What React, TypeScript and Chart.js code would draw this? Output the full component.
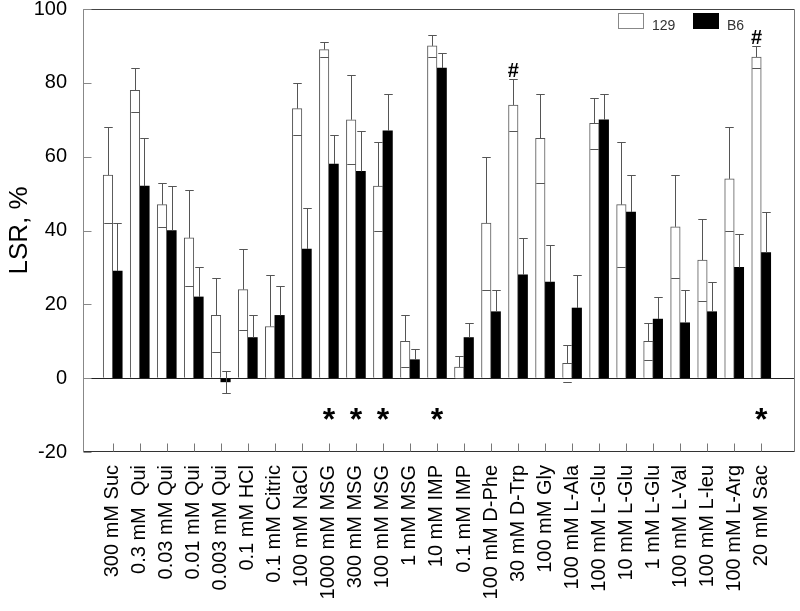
import React, { useEffect, useRef } from 'react';
import { Chart, registerables } from 'chart.js';

Chart.register(...registerables);

const categories = [
  '300 mM Suc', '0.3 mM  Qui', '0.03 mM Qui', '0.01 mM Qui', '0.003 mM Qui',
  '0.1 mM HCl', '0.1 mM Citric', '100 mM NaCl', '1000 mM MSG', '300 mM MSG',
  '100 mM MSG', '1 mM MSG', '10 mM IMP', '0.1 mM IMP', '100 mM D-Phe',
  '30 mM D-Trp', '100 mM Gly', '100 mM L-Ala', '100 mM L-Glu', '10 mM L-Glu',
  '1 mM L-Glu', '100 mM L-Val', '100 mM L-leu', '100 mM L-Arg', '20 mM Sac',
];

const values129 = [55, 78, 47, 38, 17, 24, 14, 73, 89, 70, 52, 10, 90, 3, 42, 74, 65, 4, 69, 47, 10, 41, 32, 54, 87];
const sd129 = [13, 6, 6, 13, 10, 11, 14, 7, 2, 12, 12, 7, 3, 3, 18, 7, 12, 5, 7, 17, 5, 14, 11, 14, 3];
const valuesB6 = [29, 52, 40, 22, -1, 11, 17, 35, 58, 56, 67, 5, 84, 11, 18, 28, 26, 19, 70, 45, 16, 15, 18, 30, 34];
const sdB6 = [13, 13, 12, 8, 3, 6, 8, 11, 8, 11, 10, 3, 4, 4, 6, 10, 10, 9, 7, 10, 6, 9, 8, 9, 11];

const yTicks = [-20, 0, 20, 40, 60, 80, 100];
const starGroups = [8, 9, 10, 12, 24];
const hashGroups = [15, 24];
const starValue = -9.5;

const FONT = "'Liberation Sans', Arial, sans-serif";

const errorBarPlugin = {
  id: 'errorBars',
  afterDatasetsDraw(chart: any) {
    const ctx = chart.ctx;
    const y = chart.scales.y;
    ctx.save();
    ctx.strokeStyle = '#555';
    ctx.lineWidth = 1;
    chart.data.datasets.forEach((ds: any, di: number) => {
      const meta = chart.getDatasetMeta(di);
      meta.data.forEach((bar: any, i: number) => {
        const v = ds.data[i].y;
        const e = ds.errors[i];
        const cx = Math.round(bar.x) + 0.5;
        const half = bar.width / 2 - 0.5;
        const yv = y.getPixelForValue(v);
        const yTop = Math.round(y.getPixelForValue(v + e)) + 0.5;
        const yLow = Math.round(y.getPixelForValue(v - e)) + 0.5;
        ctx.beginPath();
        if (v >= 0) {
          ctx.moveTo(cx, yv);
          ctx.lineTo(cx, yTop);
          ctx.moveTo(cx - half, yTop);
          ctx.lineTo(cx + half, yTop);
        }
        if (ds.hollow || Math.abs(v) < e) {
          if (Math.abs(v) < e && !ds.hollow) {
            ctx.moveTo(cx, yTop);
            ctx.lineTo(cx, yLow);
          }
          ctx.moveTo(cx - half, yLow);
          ctx.lineTo(cx + half, yLow);
        }
        if (v < 0) {
          ctx.moveTo(cx, yTop);
          ctx.lineTo(cx, yLow);
          ctx.moveTo(cx - half, yTop);
          ctx.lineTo(cx + half, yTop);
        }
        ctx.stroke();
      });
    });
    ctx.restore();
  },
};

const framePlugin = {
  id: 'frame',
  afterDraw(chart: any) {
    const ctx = chart.ctx;
    const { left, right, top, bottom } = chart.chartArea;
    const x = chart.scales.x;
    const y = chart.scales.y;
    ctx.save();
    ctx.lineWidth = 1;
    const line = (x1: number, y1: number, x2: number, y2: number, c: string) => {
      ctx.strokeStyle = c;
      ctx.beginPath();
      ctx.moveTo(x1, y1);
      ctx.lineTo(x2, y2);
      ctx.stroke();
    };
    const L = Math.round(left) + 0.5, R = Math.round(right) - 0.5;
    const T = Math.round(top) + 0.5, B = Math.round(bottom) - 0.5;
    line(L, T, R, T, '#444');
    line(R, T, R, B, '#777');
    line(L, T, L, B, '#888');
    line(L, B, R, B, '#333');
    y.ticks.forEach((t: any) => {
      const py = Math.round(y.getPixelForValue(t.value)) + 0.5;
      line(L, py, L + 8, py, '#888');
    });
    x.ticks.forEach((t: any) => {
      const px = Math.round(x.getPixelForValue(t.value)) + 0.5;
      line(px, B, px, B - 8, '#777');
    });
    ctx.restore();
  },
};

const marksPlugin = {
  id: 'marks',
  afterDatasetsDraw(chart: any) {
    const ctx = chart.ctx;
    const x = chart.scales.x;
    const y = chart.scales.y;
    ctx.save();
    ctx.fillStyle = '#000';
    ctx.textAlign = 'center';
    ctx.font = `bold 32px ${FONT}`;
    ctx.textBaseline = 'middle';
    starGroups.forEach((g) => {
      ctx.fillText('*', x.getPixelForValue(g), y.getPixelForValue(starValue) + 8);
    });
    ctx.font = `bold 20px ${FONT}`;
    ctx.textBaseline = 'alphabetic';
    const meta = chart.getDatasetMeta(0);
    hashGroups.forEach((g) => {
      const bar = meta.data[g];
      const top = y.getPixelForValue(values129[g] + sd129[g]);
      ctx.fillText('#', bar.x, top - 2);
    });
    ctx.restore();
  },
};

const legendPlugin = {
  id: 'customLegend',
  afterDraw(chart: any) {
    const ctx = chart.ctx;
    const items = chart.data.datasets;
    const startX = [618, 693];
    ctx.save();
    ctx.font = `14px ${FONT}`;
    ctx.textBaseline = 'alphabetic';
    ctx.textAlign = 'left';
    items.forEach((ds: any, i: number) => {
      const bx = startX[i];
      ctx.fillStyle = ds.backgroundColor;
      ctx.fillRect(bx, 13, 26, 16);
      ctx.strokeStyle = ds.hollow ? '#888' : '#000';
      ctx.lineWidth = 1;
      ctx.strokeRect(bx + 0.5, 13.5, 25, 15);
      ctx.fillStyle = '#333';
      ctx.fillText(ds.label, bx + 34, 29.5);
    });
    ctx.restore();
  },
};

export default function App() {
  const ref = useRef<HTMLCanvasElement>(null);
  useEffect(() => {
    document.body.style.margin = '0';
    const chart = new Chart(ref.current as HTMLCanvasElement, {
      type: 'bar',
      data: {
        datasets: [
          {
            label: '129',
            data: values129.map((v, i) => ({ x: i, y: v })),
            errors: sd129,
            hollow: true,
            backgroundColor: '#fff',
            borderColor: '#555',
            borderWidth: 1,
            barThickness: 9.5,
          } as any,
          {
            label: 'B6',
            data: valuesB6.map((v, i) => ({ x: i, y: v })),
            errors: sdB6,
            hollow: false,
            backgroundColor: '#000',
            borderColor: '#000',
            borderWidth: 0,
            barThickness: 9.5,
          } as any,
        ],
      },
      options: {
        animation: false,
        responsive: false,
        layout: { padding: { left: 0, right: 5, top: 9, bottom: 0 } },
        plugins: { legend: { display: false }, tooltip: { enabled: false } },
        scales: {
          x: {
            type: 'linear',
            min: -1.1,
            max: 25.25,
            offset: false,
            grid: { display: false, drawTicks: false },
            border: { display: false },
            afterBuildTicks: (s: any) => {
              s.ticks = categories.map((_, i) => ({ value: i }));
            },
            afterFit: (s: any) => {
              s.height = 159;
              s.paddingLeft = 0;
              s.paddingRight = 0;
            },
            ticks: {
              autoSkip: false,
              maxRotation: 90,
              minRotation: 90,
              padding: 13,
              color: '#000',
              font: { family: FONT, size: 20 },
              callback: (v: any) => categories[v as number] ?? '',
            },
          },
          y: {
            min: -20,
            max: 100,
            afterBuildTicks: (s: any) => {
              s.ticks = yTicks.map((v) => ({ value: v }));
            },
            afterFit: (s: any) => {
              s.width = 83;
              s.paddingTop = 0;
              s.paddingBottom = 0;
            },
            grid: {
              drawTicks: false,
              color: (c: any) => (c.tick && c.tick.value === 0 ? '#222' : 'rgba(0,0,0,0)'),
            },
            border: { display: false },
            ticks: {
              padding: 16,
              color: '#000',
              font: { family: FONT, size: 20 },
            },
            title: {
              display: true,
              text: 'LSR, %',
              color: '#000',
              font: { family: FONT, size: 26 },
              padding: { top: 4, bottom: 0 },
            },
          },
        },
      },
      plugins: [errorBarPlugin, marksPlugin, framePlugin, legendPlugin],
    } as any);
    return () => chart.destroy();
  }, []);
  return <canvas ref={ref} width={800} height={611} style={{ display: 'block' }} />;
}
